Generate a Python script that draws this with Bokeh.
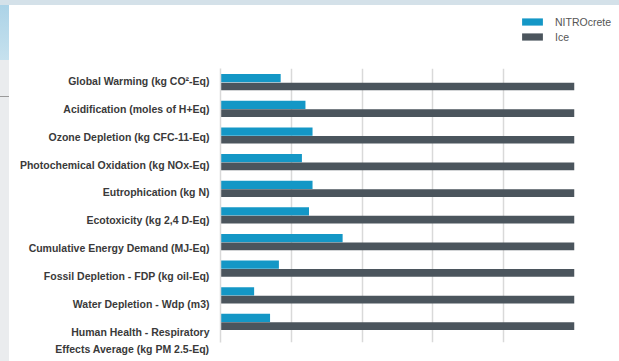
from bokeh.plotting import figure
from bokeh.layouts import column
from bokeh.models import ColumnDataSource, Range1d, FixedTicker, Legend, LegendItem
from bokeh.transform import dodge
from bokeh.embed import file_html
from bokeh.resources import INLINE

categories = [
    "Global Warming (kg CO²-Eq)",
    "Acidification (moles of H+Eq)",
    "Ozone Depletion (kg CFC-11-Eq)",
    "Photochemical Oxidation (kg NOx-Eq)",
    "Eutrophication (kg N)",
    "Ecotoxicity (kg 2,4 D-Eq)",
    "Cumulative Energy Demand (MJ-Eq)",
    "Fossil Depletion - FDP (kg oil-Eq)",
    "Water Depletion - Wdp (m3)",
    "Human Health - Respiratory\nEffects Average (kg PM 2.5-Eq)",
]
series = ["NITROcrete", "Ice"]
nitrocrete = [17, 24, 26, 23, 26, 25, 34.5, 16.5, 9.5, 14]
ice = [100, 100, 100, 100, 100, 100, 100, 100, 100, 100]
grid_values = [0, 20, 40, 60, 80]

BLUE = "#1497c6"
GRAY = "#4b555d"
LABEL_COLOR = "#3a3a3a"

rows = list(range(len(categories)))
source = ColumnDataSource(data=dict(row=rows, nitro=nitrocrete, ice=ice))

# ---- main chart ----
fig = figure(
    width=619, height=293,
    x_range=Range1d(0, 100),
    y_range=Range1d(start=9.763, end=-0.526),
    output_backend="svg", toolbar_location=None,
    min_border_left=220, min_border_right=45,
    min_border_top=0, min_border_bottom=19,
)
fig.outline_line_color = None
fig.background_fill_color = "#ffffff"
fig.border_fill_alpha = 0

r_blue = fig.hbar(y=dodge("row", -0.16), right="nitro", left=0, height=0.31,
                  source=source, color=BLUE, line_color=None)
r_gray = fig.hbar(y=dodge("row", 0.15), right="ice", left=0, height=0.29,
                  source=source, color=GRAY, line_color=None)

fig.xaxis.visible = False
fig.xgrid.ticker = FixedTicker(ticks=grid_values)
fig.xgrid.grid_line_color = "#d9d9d9"
fig.xgrid.grid_line_width = 1.5
fig.ygrid.visible = False

tick_pos = [round(-0.05 + i * 1.044, 3) for i in rows[:-1]] + [9.69]
fig.yaxis.ticker = FixedTicker(ticks=tick_pos)
fig.yaxis.major_label_overrides = {t: c for t, c in zip(tick_pos, categories)}
fig.yaxis.major_tick_out = 0
fig.yaxis.major_tick_in = 0
fig.yaxis.minor_tick_out = 0
fig.yaxis.minor_tick_in = 0
fig.yaxis.major_label_standoff = 11
fig.yaxis.axis_line_color = "#d9d9d9"
fig.yaxis.axis_line_width = 1.5
fig.yaxis.major_label_text_font = "Liberation Sans"
fig.yaxis.major_label_text_font_style = "bold"
fig.yaxis.major_label_text_font_size = "10.5px"
fig.yaxis.major_label_text_color = LABEL_COLOR
fig.yaxis.major_label_text_line_height = 1.45

# ---- legend strip above the chart ----
has_frame_align = hasattr(fig, "frame_align")

legend_fig = figure(
    width=619, height=68,
    x_range=Range1d(0, 100), y_range=Range1d(-0.5, 9.5),
    output_backend="svg", toolbar_location=None,
    x_axis_location=None, y_axis_location=None,
    min_border_left=0, min_border_right=0,
    min_border_top=0, min_border_bottom=0,
)
if has_frame_align:
    fig.frame_align = False
    legend_fig.frame_align = False
legend_fig.grid.visible = False
legend_fig.outline_line_color = None
legend_fig.background_fill_alpha = 0
legend_fig.border_fill_alpha = 0
lb = legend_fig.hbar(y="row", right="nitro", left=0, height=0.3, source=source,
                     color=BLUE, line_color=None, visible=False)
lg = legend_fig.hbar(y="row", right="ice", left=0, height=0.3, source=source,
                     color=GRAY, line_color=None, visible=False)
legend = Legend(
    items=[LegendItem(label=series[0], renderers=[lb]),
           LegendItem(label=series[1], renderers=[lg])],
    location=(519, 25) if has_frame_align else "top_right",
    padding=0, margin=0, spacing=2,
    glyph_width=26, glyph_height=9, label_height=13,
    label_standoff=10,
    label_text_font="Liberation Sans", label_text_font_size="10.5px",
    label_text_color="#555555",
    border_line_alpha=0, background_fill_alpha=0,
)
legend_fig.add_layout(legend, "center")

p = column(legend_fig, fig, spacing=0, styles={
    "background": (
        "linear-gradient(#d4e1e9,#d4e1e9) 0 0/100% 5px no-repeat, "
        "linear-gradient(#9a9a9a,#9a9a9a) 0 96px/9px 1px no-repeat, "
        "linear-gradient(#acd3e7,#c6e1ee) 0 5px/9px 55px no-repeat, "
        "linear-gradient(#eaecee,#eaecee) 0 60px/9px 100% no-repeat, "
        "#ffffff"
    )
})

open("out.html", "w").write(file_html(p, INLINE))
